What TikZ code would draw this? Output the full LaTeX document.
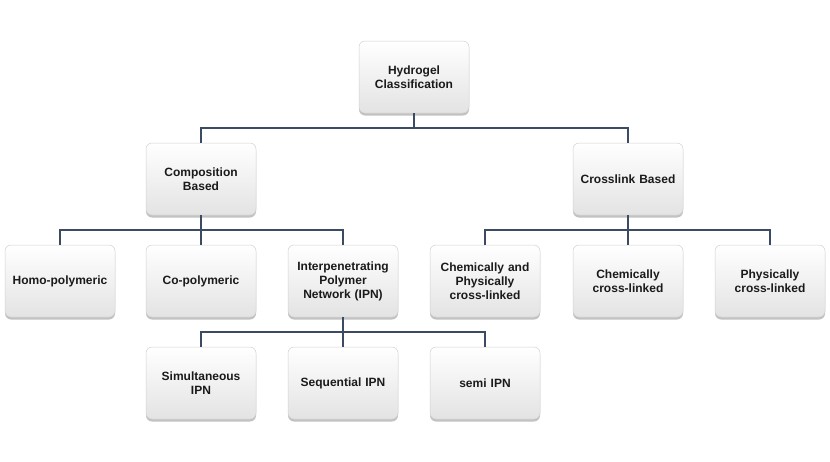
\documentclass[tikz,border=0pt]{standalone}
\usepackage{fontspec}
\setmainfont{Liberation Sans}
\usetikzlibrary{shadows}
\definecolor{conncol}{HTML}{3A4B63}
\definecolor{txtcol}{HTML}{1A1A1A}
\tikzset{
  box/.style={rectangle, rounded corners=6pt, draw=black!18, line width=0.5pt,
    top color=white, bottom color=black!11, minimum width=110pt, minimum height=72pt,
    inner xsep=2pt, text width=105pt, align=center, text=txtcol,
    font=\fontsize{12}{14}\selectfont\bfseries,
    drop shadow={shadow xshift=0pt, shadow yshift=-2.5pt, opacity=0.4, fill=black!60}},
  conn/.style={draw=conncol, line width=1.3pt}
}
\begin{document}
\begin{tikzpicture}[x=1pt,y=-1pt]
\useasboundingbox (0,0) rectangle (830,461);
\node[box] (top) at (414,77) {Hydrogel\\Classification};
\node[box] (comp) at (201,179) {Composition\\Based};
\node[box] (cross) at (628,179) {Crosslink Based};
\node[box] (homo) at (60,281) {Homo-polymeric};
\node[box] (co) at (201,281) {Co-polymeric};
\node[box] (ipn) at (343,281) {Interpenetrating\\Polymer\\Network (IPN)};
\node[box] (chph) at (485,281) {Chemically and\\Physically\\cross-linked};
\node[box] (chem) at (628,281) {Chemically\\cross-linked};
\node[box] (phys) at (770,281) {Physically\\cross-linked};
\node[box] (simu) at (201,383) {Simultaneous\\IPN};
\node[box] (seq) at (343,383) {Sequential IPN};
\node[box] (semi) at (485,383) {semi IPN};
\coordinate (j1) at (414,128);
\coordinate (j2) at (201,230);
\coordinate (j3) at (628,230);
\coordinate (j4) at (343,332);
\draw[conn] (top.south) -- (j1);
\draw[conn] (j1) -| (comp.north);
\draw[conn] (j1) -| (cross.north);
\draw[conn] (comp.south) -- (co.north);
\draw[conn] (j2) -| (homo.north);
\draw[conn] (j2) -| (ipn.north);
\draw[conn] (cross.south) -- (chem.north);
\draw[conn] (j3) -| (chph.north);
\draw[conn] (j3) -| (phys.north);
\draw[conn] (ipn.south) -- (seq.north);
\draw[conn] (j4) -| (simu.north);
\draw[conn] (j4) -| (semi.north);
\end{tikzpicture}
\end{document}
